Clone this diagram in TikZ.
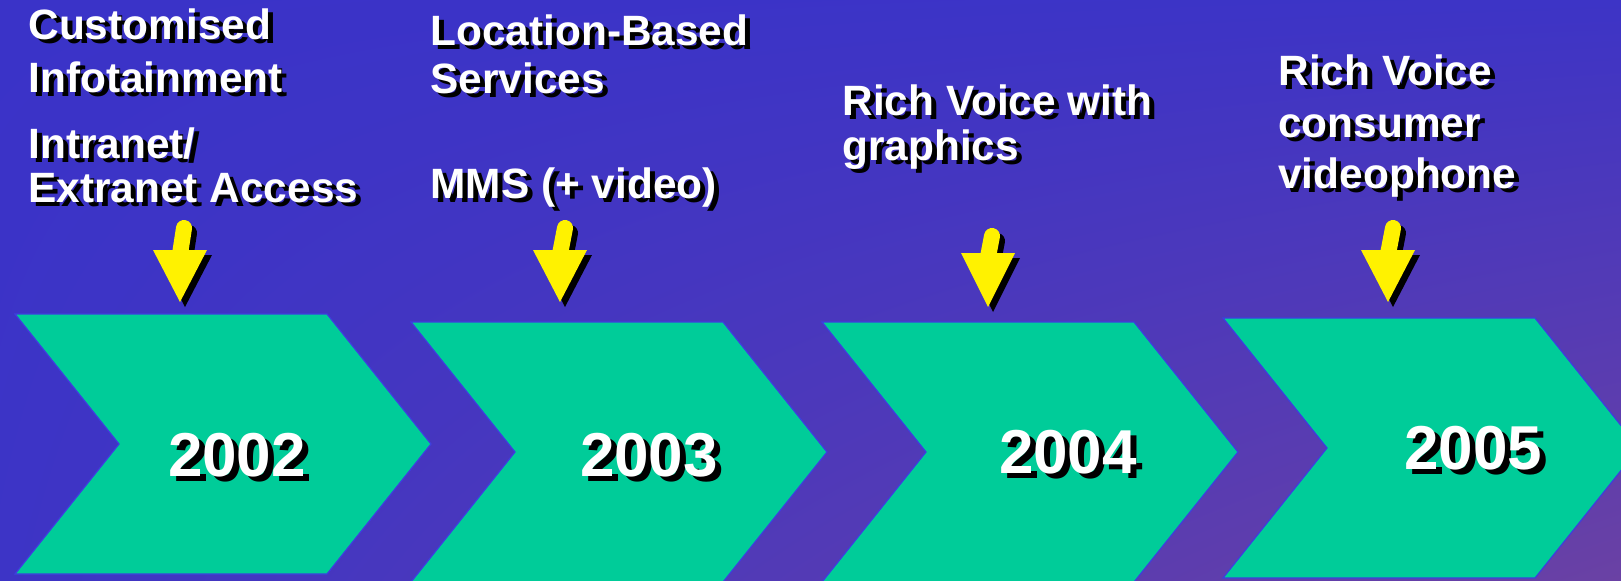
\documentclass[tikz,border=0pt]{standalone}
\usepackage{fontspec}
\setmainfont{Liberation Sans}
\usepackage{xcolor}
\usetikzlibrary{shadings}

\definecolor{slideblue}{RGB}{58,51,200}
\definecolor{slidepurple}{RGB}{106,65,164}
\definecolor{stagegreen}{RGB}{0,204,153}
\definecolor{stageedge}{RGB}{62,62,222}

% white caption with a black drop shadow
\newcommand{\slidetext}[4]{%
  \node[textshade] (#1s) at (#2+5,#3+4) {#4};
  \node[textlight] (#1) at (#2,#3) {#4};}

\begin{document}
\begin{tikzpicture}[x=0.5pt, y=-0.5pt,
    textlight/.style={anchor=base west, inner sep=0pt, text=white,
      font=\fontsize{21.2}{25}\selectfont\bfseries},
    textshade/.style={textlight, text=black},
    yearlight/.style={inner sep=0pt, text=white,
      font=\fontsize{31}{36}\selectfont\bfseries},
    yearshade/.style={yearlight, text=black},
    stage/.style={fill=stagegreen, draw=stageedge, line width=0.6pt},
    pointer/.style={line width=8pt, line cap=round}]
  \useasboundingbox (0,0) rectangle (1621,580);
  \clip (0,0) rectangle (1621,580);
  \shade[upper left=slideblue, upper right=slideblue!94!slidepurple,
    lower left=slideblue!94!slidepurple, lower right=slidepurple]
    (0,0) rectangle (1621,580);

  % the four year chevrons
  \foreach \x/\y/\yr/\tx/\ty in {15/314/2002/237/455, 411/322/2003/649/455,
      822/322/2004/1068/452, 1223/318/2005/1473/448}{
    \draw[stage] (\x,\y) -- ++(312,0) -- ++(104,130) -- ++(-104,130)
      -- ++(-312,0) -- ++(104,-130) -- cycle;
    \node[yearshade] (yr\yr s) at (\tx+6,\ty+5) {\yr};
    \node[yearlight] (yr\yr) at (\tx,\ty) {\yr};
  }

  % yellow pointers, shadow first
  \foreach \sx/\sy/\hx/\hy/\ty in {184/220/180/250/302, 565/220/560/250/302,
      992/228/988/253/307, 1393/220/1388/250/302}{
    \begin{scope}[shift={(5,5)}]
      \draw[pointer, black] (\sx,\sy+8) -- (\hx,\hy+4);
      \fill[black] (\hx-27,\hy) -- (\hx+27,\hy) -- (\hx,\ty) -- cycle;
    \end{scope}
    \draw[pointer, yellow] (\sx,\sy+8) -- (\hx,\hy+4);
    \fill[yellow] (\hx-27,\hy) -- (\hx+27,\hy) -- (\hx,\ty) -- cycle;
  }

  % captions
  \slidetext{cust}{28}{39}{Customised}
  \slidetext{info}{28}{92}{Infotainment}
  \slidetext{intra}{28}{158}{Intranet/}
  \slidetext{extra}{28}{202}{Extranet Access}
  \slidetext{loc}{430}{45}{Location-Based}
  \slidetext{serv}{430}{93}{Services}
  \slidetext{mms}{430}{198}{MMS (+ video)}
  \slidetext{rvw}{842}{115}{Rich Voice with}
  \slidetext{graph}{842}{160}{graphics}
  \slidetext{rv}{1278}{85}{Rich Voice}
  \slidetext{cons}{1278}{137}{consumer}
  \slidetext{video}{1278}{188}{videophone}
\end{tikzpicture}
\end{document}
